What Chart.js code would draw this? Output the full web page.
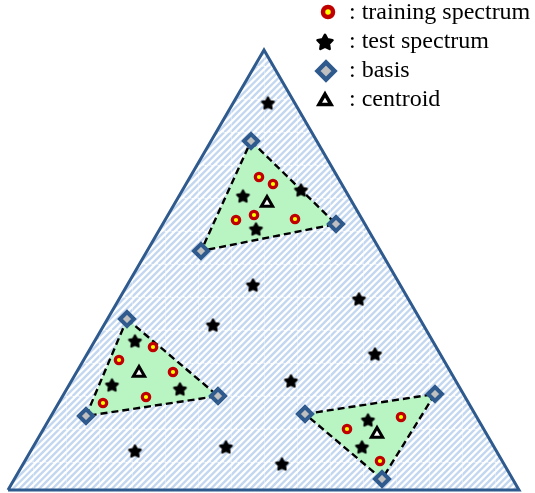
<!DOCTYPE html>
<html>
<head>
<meta charset="utf-8">
<script src="https://cdn.jsdelivr.net/npm/chart.js@4.4.0/dist/chart.umd.min.js"></script>
<style>
  html, body { margin: 0; padding: 0; background: #fff; }
  #wrap { width: 535px; height: 493px; position: relative; }
</style>
</head>
<body>
<div id="wrap"><canvas id="c"></canvas></div>
<script>
// Simplex space: origin at the lower-left corner, y pointing up.
const simplexCorners = [[0, 0], [511, 0], [256, 440]];

// Three clusters: basis vertices, training spectra, test spectra, centroid
const basisA = [[243, 349], [328, 266], [193, 239]];
const basisB = [[119, 171], [210, 94], [78, 74]];
const basisC = [[297, 76], [427, 96], [374, 11]];

const trainingA = [[251, 313], [265, 306], [246, 275], [228, 270], [287, 271]];
const trainingB = [[145, 143], [111, 130], [165, 118], [95, 87], [138, 93]];
const trainingC = [[393, 73], [339, 61], [372, 29]];

const testInside = [[235, 294], [293, 300], [248, 261],
                    [127, 149], [104, 105], [172, 101],
                    [360, 70], [354, 43]];
const testOutside = [[260, 387], [245, 205], [351, 191], [205, 165], [367, 136],
                     [283, 109], [127, 39], [218, 43], [274, 26]];

const centroids = [[259, 287], [131, 117], [369, 56]];

const legendLabels = ['training spectrum', 'test spectrum', 'basis', 'centroid'];

// ---- helpers -------------------------------------------------------------
const toPts = a => a.map(([x, y]) => ({ x, y }));
const closed = a => toPts([...a, a[0]]);

function starCanvas(R) {
  const size = Math.ceil(R * 2 + 4);
  const c = document.createElement('canvas');
  c.width = c.height = size;
  const g = c.getContext('2d');
  const m = size / 2;
  g.beginPath();
  for (let i = 0; i < 10; i++) {
    const r = i % 2 ? R * 0.52 : R;
    const a = -Math.PI / 2 + i * Math.PI / 5;
    g.lineTo(m + r * Math.cos(a), m + 0.6 + r * Math.sin(a));
  }
  g.closePath();
  g.fillStyle = '#000';
  g.strokeStyle = '#000';
  g.lineWidth = R * 0.34;
  g.lineJoin = 'round';
  g.fill();
  g.stroke();
  return c;
}

function hatchPattern() {
  const s = 33;
  const c = document.createElement('canvas');
  c.width = c.height = s;
  const g = c.getContext('2d');
  g.fillStyle = '#ffffff';
  g.fillRect(0, 0, s, s);
  g.strokeStyle = '#c3d7f0';
  g.lineWidth = 2.4;
  const p = s / 5;
  for (let k = -6; k <= 6; k++) {
    g.beginPath();
    g.moveTo(k * p, s);
    g.lineTo(k * p + s, 0);
    g.stroke();
  }
  g.fillStyle = 'rgba(255,255,255,0.35)';
  g.fillRect(0, 0, s, 1);
  g.fillRect(0, 0, 1, s);
  return document.createElement('canvas').getContext('2d').createPattern(c, 'repeat');
}

const starSmall = starCanvas(6.2);
const starLarge = starCanvas(7.8);

const markerStyles = {
  training: { pointStyle: 'circle', radius: 3.7, borderWidth: 3.2, bg: '#ffff00', border: '#c00000' },
  test: { pointStyle: starSmall, radius: 6, borderWidth: 0, bg: '#000', border: '#000' },
  basis: { pointStyle: 'rectRot', radius: 7, borderWidth: 4, bg: '#bfbfbf', border: '#2f5a8e' },
  centroid: { pointStyle: 'triangle', radius: 6.5, borderWidth: 3, bg: '#ffffff', border: '#000000' }
};

function markerDataset(label, data, st) {
  return {
    type: 'scatter', label, data: toPts(data), order: 0,
    pointStyle: st.pointStyle, pointRadius: st.radius, pointHoverRadius: st.radius,
    pointBorderWidth: st.borderWidth, pointBackgroundColor: st.bg, pointBorderColor: st.border,
    showLine: false, clip: false
  };
}

function regionDataset(label, corners) {
  return {
    type: 'line', label, data: closed(corners), order: 5,
    fill: 'shape', backgroundColor: '#b9f4c3',
    borderColor: '#000', borderWidth: 2.4, borderDash: [7, 4],
    pointRadius: 0, tension: 0, clip: false
  };
}

// ---- legend in the upper right corner -----------------------------------
const markerLegend = {
  id: 'markerLegend',
  afterDraw(chart) {
    const ctx = chart.ctx;
    const rows = [
      { st: { ...markerStyles.training, radius: 5, borderWidth: 4.5 }, mx: 328, my: 12, base: 19 },
      { st: { ...markerStyles.test, pointStyle: starLarge }, mx: 325, my: 42, base: 48 },
      { st: { ...markerStyles.basis, radius: 8.5, borderWidth: 4.5 }, mx: 326, my: 71, base: 77 },
      { st: { ...markerStyles.centroid, radius: 7, borderWidth: 3.5 }, mx: 325, my: 101, base: 106 }
    ];
    ctx.save();
    rows.forEach((r, i) => {
      ctx.fillStyle = r.st.bg;
      ctx.strokeStyle = r.st.border;
      ctx.lineWidth = r.st.borderWidth;
      Chart.helpers.drawPoint(ctx, {
        pointStyle: r.st.pointStyle, radius: r.st.radius,
        borderWidth: r.st.borderWidth, rotation: 0
      }, r.mx, r.my);
      ctx.fillStyle = '#000';
      ctx.font = '24px "Liberation Serif", "Times New Roman", serif';
      ctx.textBaseline = 'alphabetic';
      ctx.textAlign = 'left';
      ctx.fillText(': ' + legendLabels[i], 349, r.base);
    });
    ctx.restore();
  }
};

new Chart(document.getElementById('c'), {
  type: 'scatter',
  data: {
    datasets: [
      markerDataset('centroid', centroids, markerStyles.centroid),
      markerDataset('training spectrum', [...trainingA, ...trainingB, ...trainingC], markerStyles.training),
      markerDataset('test spectrum', [...testInside, ...testOutside], markerStyles.test),
      markerDataset('basis', [...basisA, ...basisB, ...basisC], markerStyles.basis),
      regionDataset('region A', basisA),
      regionDataset('region B', basisB),
      regionDataset('region C', basisC),
      {
        type: 'line', label: 'simplex', data: closed(simplexCorners), order: 10,
        fill: 'shape', backgroundColor: hatchPattern(),
        borderColor: '#2f5a8e', borderWidth: 3, borderJoinStyle: 'miter',
        pointRadius: 0, tension: 0, clip: false
      }
    ]
  },
  options: {
    responsive: true,
    maintainAspectRatio: false,
    animation: false,
    events: [],
    layout: { padding: 0, autoPadding: false },
    scales: {
      x: { type: 'linear', min: -8, max: 527, display: false },
      y: { type: 'linear', min: -3, max: 490, display: false }
    },
    plugins: {
      legend: { display: false },
      tooltip: { enabled: false }
    }
  },
  plugins: [markerLegend]
});
</script>
</body>
</html>
